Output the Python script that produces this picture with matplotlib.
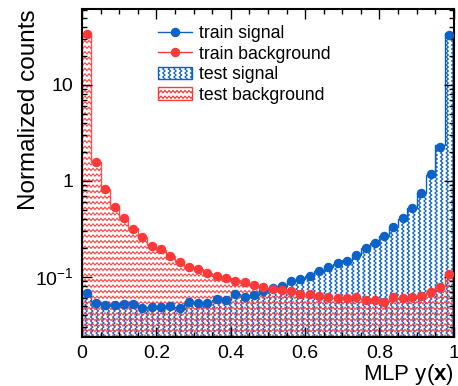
import warnings
import numpy as np
import matplotlib
matplotlib.use("Agg")
import matplotlib.pyplot as plt
import matplotlib.hatch as mhatch
from matplotlib.path import Path
from matplotlib.lines import Line2D
from matplotlib.patches import Patch
from matplotlib.ticker import FixedLocator, FixedFormatter, MultipleLocator, LogLocator, NullFormatter

warnings.filterwarnings("ignore")

# data: 40 bins of MLP output between 0 and 1
edges = np.linspace(0, 1, 41)

train_signal = [0.0676, 0.0532, 0.051, 0.051, 0.0523, 0.0523, 0.0472, 0.049, 0.049, 0.050,
                0.047, 0.0545, 0.053, 0.054, 0.059, 0.0575, 0.0668, 0.062, 0.0648, 0.0722,
                0.0766, 0.081, 0.0916, 0.0945, 0.102, 0.1155, 0.126, 0.139, 0.148, 0.169,
                0.199, 0.224, 0.267, 0.330, 0.408, 0.52, 0.745, 1.175, 2.27, 33.2]
train_background = [34.0, 1.59, 0.82, 0.54, 0.41, 0.318, 0.263, 0.212, 0.194, 0.166,
                    0.143, 0.128, 0.121, 0.111, 0.102, 0.098, 0.091, 0.088, 0.082, 0.078,
                    0.075, 0.073, 0.0722, 0.0668, 0.0668, 0.063, 0.062, 0.0598, 0.0598, 0.062,
                    0.0575, 0.0575, 0.0553, 0.062, 0.0598, 0.062, 0.0635, 0.0703, 0.0795, 0.107]
test_signal = [0.066, 0.054, 0.052, 0.050, 0.052, 0.053, 0.048, 0.049, 0.050, 0.049,
               0.048, 0.054, 0.053, 0.055, 0.058, 0.058, 0.066, 0.063, 0.065, 0.072,
               0.077, 0.080, 0.090, 0.095, 0.103, 0.114, 0.127, 0.138, 0.150, 0.168,
               0.200, 0.226, 0.265, 0.332, 0.405, 0.52, 0.75, 1.16, 2.35, 34.6]
test_background = [34.8, 1.57, 0.83, 0.54, 0.41, 0.32, 0.262, 0.214, 0.193, 0.167,
                   0.144, 0.127, 0.122, 0.110, 0.103, 0.097, 0.092, 0.087, 0.083, 0.077,
                   0.076, 0.073, 0.071, 0.067, 0.066, 0.064, 0.061, 0.060, 0.060, 0.061,
                   0.058, 0.057, 0.056, 0.061, 0.060, 0.062, 0.064, 0.069, 0.081, 0.113]

blue = "#0b62c8"
red = "#ff3838"


# wavy hatch patterns: '~' horizontal waves, '$' vertical waves
class WaveHatch(mhatch.HatchPatternBase):
    def __init__(self, hatch, density):
        self.horizontal = hatch.count("~") * density
        self.vertical = hatch.count("$") * density
        self.npts = 101
        self.num_lines = self.horizontal + self.vertical
        self.num_vertices = self.num_lines * self.npts

    def set_vertices_and_codes(self, vertices, codes):
        t = np.linspace(0, 1, self.npts)
        wave = 0.012 * np.sin(2 * np.pi * 25 * t)
        k = 0
        for i in range(self.horizontal):
            pos = (i + 0.5) / self.horizontal
            vertices[k:k + self.npts, 0] = t
            vertices[k:k + self.npts, 1] = pos + wave
            k += self.npts
        for i in range(self.vertical):
            pos = (i + 0.5) / self.vertical
            vertices[k:k + self.npts, 0] = pos + wave
            vertices[k:k + self.npts, 1] = t
            k += self.npts
        codes[:] = Path.LINETO
        codes[::self.npts] = Path.MOVETO


mhatch._hatch_types.append(WaveHatch)

plt.rcParams["font.family"] = ["Liberation Sans", "DejaVu Sans"]
plt.rcParams["mathtext.fontset"] = "custom"
plt.rcParams["mathtext.rm"] = "Liberation Sans"
plt.rcParams["mathtext.bf"] = "Liberation Sans:bold"
plt.rcParams["hatch.linewidth"] = 0.8

fig = plt.figure(figsize=(4.58, 3.86), dpi=100)
ax = fig.add_axes([0.179, 0.127, 0.812, 0.850])

# test histograms (hatched)
ax.stairs(test_signal, edges, baseline=1e-3, fill=True, facecolor="none",
          edgecolor=blue, hatch="$$$", linewidth=1.0)
ax.stairs(test_background, edges, baseline=1e-3, fill=True, facecolor="none",
          edgecolor=red, hatch="~~~", linewidth=1.0, alpha=0.85)

# train points
centers = 0.5 * (edges[:-1] + edges[1:])
ax.plot(centers, train_signal, "o", color=blue, ms=5.8, zorder=5)
ax.plot(centers, train_background, "o", color=red, ms=5.8, zorder=5)

ax.set_yscale("log")
ax.set_xlim(0, 1)
ax.set_ylim(0.0237, 62)

ax.xaxis.set_minor_locator(MultipleLocator(0.05))
ax.set_xticks([0, 0.2, 0.4, 0.6, 0.8, 1.0])
ax.set_xticklabels(["0", "0.2", "0.4", "0.6", "0.8", "1"])
ax.yaxis.set_major_locator(FixedLocator([0.1, 1, 10]))
ax.yaxis.set_major_formatter(FixedFormatter([r"10$^{-1}$", "1", "10"]))
ax.yaxis.set_minor_locator(LogLocator(base=10, subs=np.arange(2, 10)))
ax.yaxis.set_minor_formatter(NullFormatter())

ax.tick_params(which="both", direction="in", top=True, right=True, labelsize=14, width=1)
ax.tick_params(which="major", length=7, pad=6)
ax.tick_params(which="minor", length=3.5)
for s in ax.spines.values():
    s.set_linewidth(1.5)

ax.set_ylabel("Normalized counts", fontsize=17.5, loc="top", labelpad=-4)
ax.set_xlabel(r"MLP y($\mathbf{x}$)", fontsize=16, loc="right", labelpad=0)

handles = [
    Line2D([], [], color=blue, marker="o", ms=5.8, lw=1),
    Line2D([], [], color=red, marker="o", ms=5.8, lw=1),
    Patch(facecolor="none", edgecolor=blue, hatch="$$$"),
    Patch(facecolor="none", edgecolor=red, hatch="~~~"),
]
labels = ["train signal", "train background", "test signal", "test background"]
fig.legend(handles, labels, loc="upper left", bbox_to_anchor=(158 / 458, 1 - 25 / 386),
           frameon=False, fontsize=12.7, handlelength=1.95, handletextpad=0.35,
           labelspacing=0.2, borderaxespad=0, borderpad=0)

fig.savefig("out.png", dpi=100)
